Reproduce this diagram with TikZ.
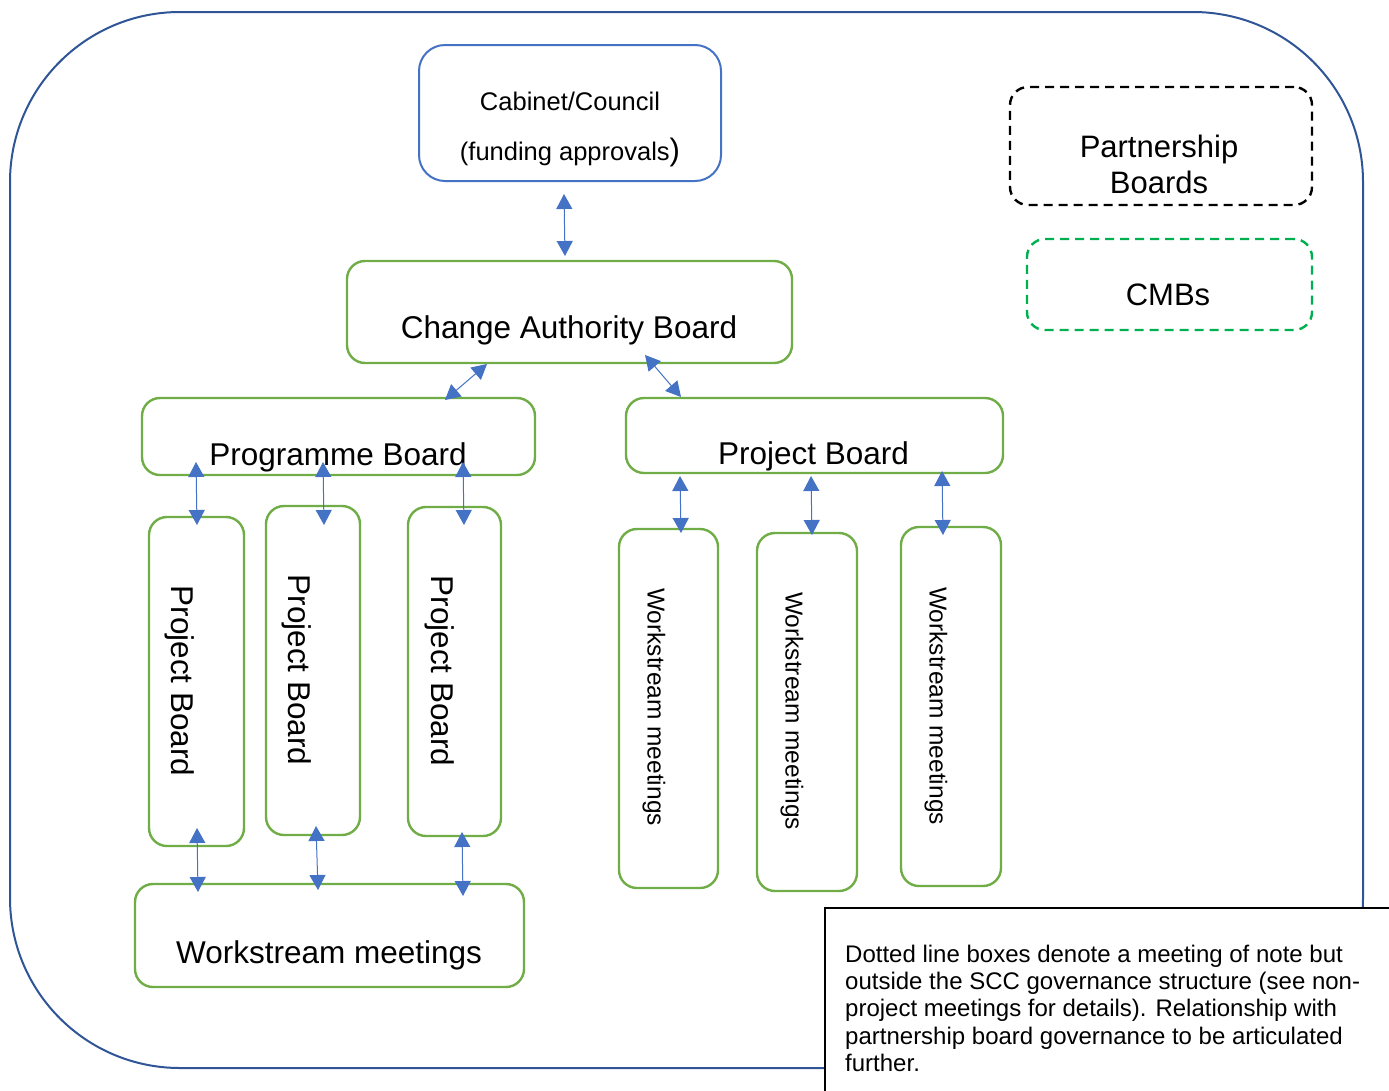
\documentclass[tikz,border=0pt]{standalone}
\usepackage{fontspec}
\setmainfont{Liberation Sans}
\usetikzlibrary{arrows.meta}
\definecolor{grn}{HTML}{70AD47}
\definecolor{blu}{HTML}{4472C4}
\definecolor{dblu}{HTML}{2F5597}
\definecolor{dgrn}{HTML}{00B050}
\tikzset{
  gbox/.style={draw=grn, line width=2.4pt, rounded corners=18pt, inner sep=0pt},
  bbox/.style={draw=blu, line width=2pt, rounded corners=26pt, inner sep=0pt},
  txtbig/.style={inner sep=0pt, font=\fontsize{31.5}{36}\selectfont},
  txtmid/.style={inner sep=0pt, font=\fontsize{24.5}{28}\selectfont},
  link/.style={draw=blu, line width=1pt, {Triangle[length=15pt,width=16pt]}-{Triangle[length=15pt,width=16pt]}},
}
\begin{document}
\begin{tikzpicture}[x=1pt,y=-1pt]
\useasboundingbox (0,0) rectangle (1389,1090);
% outer frame
\draw[dblu, line width=2pt, rounded corners=170pt] (10,12) rectangle (1363,1068);

% Cabinet
\node[bbox, minimum width=302pt, minimum height=136pt] (cab) at (570,113) {};
\node[inner sep=0pt, anchor=base, font=\fontsize{25.5}{30}\selectfont] (cabt1) at (570,110) {Cabinet/Council};
\node[inner sep=0pt, anchor=base, font=\fontsize{25.5}{30}\selectfont] (cabt2) at (570,160) {(funding approvals{\fontsize{31}{31}\selectfont )}};

% Change Authority Board
\node[gbox, minimum width=445pt, minimum height=102pt] (cab2) at (569.5,312) {};
\node[txtbig, anchor=base] (cab2t) at (569,338) {Change Authority Board};

% Programme board
\node[gbox, minimum width=393pt, minimum height=77pt] (prog) at (338.5,436.5) {};
\node[txtbig, anchor=base] (progt) at (338,465) {Programme Board};

% Project board right
\node[gbox, minimum width=377pt, minimum height=75pt] (proj) at (814.5,435.5) {};
\node[txtbig, anchor=base] (projt) at (813.5,464) {Project Board};

% left project boards
\node[gbox, minimum width=95pt, minimum height=329pt] (pb1) at (196.5,681.5) {};
\node[txtbig, rotate=-90] (pb1t) at (180,681) {Project Board};
\node[gbox, minimum width=94pt, minimum height=329pt] (pb2) at (313,670.5) {};
\node[txtbig, rotate=-90] (pb2t) at (297,670) {Project Board};
\node[gbox, minimum width=93pt, minimum height=329pt] (pb3) at (454.5,671.5) {};
\node[txtbig, rotate=-90] (pb3t) at (440,671) {Project Board};

% workstream meetings bottom
\node[gbox, minimum width=389pt, minimum height=103pt] (wsm) at (329.5,935.5) {};
\node[txtbig, anchor=base] (wsmt) at (329,963) {Workstream meetings};

% workstream vertical boxes
\node[gbox, minimum width=99pt, minimum height=359pt] (ws1) at (668.5,708.5) {};
\node[txtmid, rotate=-90] (ws1t) at (654,707) {Workstream meetings};
\node[gbox, minimum width=100pt, minimum height=358pt] (ws2) at (807,712) {};
\node[txtmid, rotate=-90] (ws2t) at (792,711) {Workstream meetings};
\node[gbox, minimum width=100pt, minimum height=359pt] (ws3) at (951,706.5) {};
\node[txtmid, rotate=-90] (ws3t) at (936,706) {Workstream meetings};

% partnership boards
\node[draw=black, line width=2.4pt, dash pattern=on 9pt off 6pt, rounded corners=18pt, minimum width=302pt, minimum height=118pt, inner sep=0pt] (pship) at (1161,146) {};
\node[inner sep=0pt, anchor=base, font=\fontsize{31}{36}\selectfont] (pshipt1) at (1159,157) {Partnership};
\node[inner sep=0pt, anchor=base, font=\fontsize{31}{36}\selectfont] (pshipt2) at (1159,193) {Boards};

% CMBs
\node[draw=dgrn, line width=2.4pt, dash pattern=on 9pt off 6pt, rounded corners=18pt, minimum width=285pt, minimum height=91pt, inner sep=0pt] (cmb) at (1169.5,284.5) {};
\node[inner sep=0pt, anchor=base, font=\fontsize{31}{36}\selectfont] (cmbt) at (1168,305) {CMBs};

% connectors
\coordinate (a1) at (564,194); \coordinate (b1) at (565,256);
\coordinate (a2) at (487,364); \coordinate (b2) at (445,400);
\coordinate (a3) at (645,355); \coordinate (b3) at (681,397);
\coordinate (a4) at (196,462); \coordinate (b4) at (197,525);
\coordinate (a5) at (323,462); \coordinate (b5) at (324,525);
\coordinate (a6) at (463,462); \coordinate (b6) at (464,525);
\coordinate (a7) at (680,476); \coordinate (b7) at (681,533);
\coordinate (a8) at (811,476); \coordinate (b8) at (812,535);
\coordinate (a9) at (942,471); \coordinate (b9) at (943,535);
\coordinate (a10) at (197,828); \coordinate (b10) at (198,892);
\coordinate (a11) at (316,826); \coordinate (b11) at (318,890);
\coordinate (a12) at (462,832); \coordinate (b12) at (463,896);
\foreach \i in {1,...,12} { \draw[link] (a\i) -- (b\i); }

% note box
\node[draw=black, fill=white, line width=2pt, minimum width=580pt, minimum height=200pt, inner sep=0pt, anchor=north west] (note) at (824,907) {};
\node[inner sep=0pt, anchor=north west, align=left, font=\fontsize{24}{27.3}\selectfont] (notet) at (845,944.5) {Dotted line boxes denote a meeting of note but\\outside the SCC governance structure (see non-\\project meetings for details). Relationship with\\partnership board governance to be articulated\\further.};
\end{tikzpicture}
\end{document}
